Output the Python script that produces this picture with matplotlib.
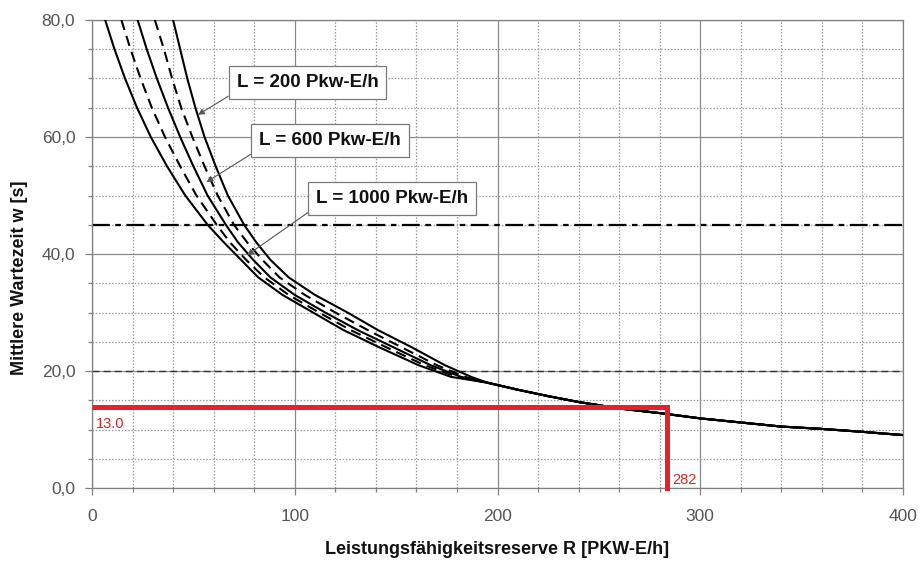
import matplotlib
matplotlib.use("Agg")
import matplotlib.pyplot as plt
from matplotlib.ticker import MultipleLocator, FuncFormatter

plt.rcParams['font.family'] = ['Liberation Sans', 'DejaVu Sans']

# ---- data ----
w_levels = [80, 75, 70, 65, 60, 55, 50, 45, 42, 39, 36, 33, 30, 27, 24, 21, 19]
R_L1000 = [6.5, 11.1, 16.3, 22.2, 29.0, 37.0, 46.0, 57.0, 65.0, 73.5, 82.0, 94.0, 109.0, 124.0, 142.0, 161.0, 177.0]
R_dash_a = [14.5, 19.0, 24.0, 29.5, 36.0, 43.5, 51.5, 61.5, 68.0, 76.0, 85.0, 97.0, 112.0, 127.5, 145.5, 164.0, 180.0]
R_L600 = [22.5, 27.0, 32.0, 37.5, 43.5, 50.0, 57.0, 66.0, 72.0, 79.5, 88.0, 100.0, 115.0, 131.0, 149.0, 167.0, 182.0]
R_dash_b = [31.0, 35.5, 39.5, 44.0, 49.5, 55.5, 62.0, 70.0, 76.5, 84.0, 92.5, 105.0, 120.0, 136.0, 153.0, 170.0, 184.0]
R_L200 = [40.0, 43.5, 47.0, 51.0, 55.5, 61.0, 67.0, 75.0, 81.0, 88.0, 97.0, 110.0, 126.0, 141.0, 158.0, 174.0, 187.0]

tail_R = [195, 210, 225, 240, 260, 280, 300, 320, 340, 360, 380, 400]
tail_w = [18.0, 16.8, 15.7, 14.7, 13.6, 12.8, 11.9, 11.2, 10.5, 10.1, 9.6, 9.05]

ref_dashdot_w = 45
ref_dashed_w = 20
red_R = 283.5
red_w = 13.9
red_R_label = "282"
red_w_label = "13.0"

labels = ["L = 200 Pkw-E/h", "L = 600 Pkw-E/h", "L = 1000 Pkw-E/h"]
label_pos = [(106.3, 69.3), (117.4, 59.4), (148, 49.5)]
label_tip = [(52.3, 63.8), (56.5, 52.3), (76.5, 39.8)]

# ---- figure ----
fig = plt.figure(figsize=(9.22, 5.61), dpi=100)
ax = fig.add_axes([92/922, 1-488/561, (903-92)/922, (488-20)/561])

ax.set_xlim(0, 400)
ax.set_ylim(0, 80)
ax.xaxis.set_major_locator(MultipleLocator(100))
ax.xaxis.set_minor_locator(MultipleLocator(20))
ax.yaxis.set_major_locator(MultipleLocator(20))
ax.yaxis.set_minor_locator(MultipleLocator(5))
ax.yaxis.set_major_formatter(FuncFormatter(lambda v, p: f"{v:.1f}".replace('.', ',')))
ax.xaxis.set_major_formatter(FuncFormatter(lambda v, p: f"{v:.0f}"))

ax.grid(which='major', color='#8a8a8a', lw=0.9, ls='-')
ax.grid(which='minor', color='#9a9a9a', lw=0.9, ls=(0, (1.2, 1.4)))
ax.set_axisbelow(True)
for s in ax.spines.values():
    s.set_color('#808080')
    s.set_linewidth(0.9)
ax.tick_params(which='major', direction='out', length=5, width=0.9, color='#808080',
               labelsize=12.5, labelcolor='#555555')
ax.tick_params(which='minor', direction='out', length=3, width=0.9, color='#808080')
ax.tick_params(axis='y', which='major', pad=7)
ax.tick_params(axis='x', which='major', pad=10)

# reference lines
ax.axhline(ref_dashdot_w, color='black', lw=1.6, ls=(0, (8, 2.5, 2.5, 2.5)), zorder=2)
ax.axhline(ref_dashed_w, color='#333333', lw=1.0, ls=(0, (5, 3)), zorder=2)

# curves
solid_sets = [R_L1000, R_L600, R_L200]
dash_sets = [R_dash_a, R_dash_b]
for Rs in solid_sets:
    ax.plot(Rs + tail_R, w_levels + tail_w, color='black', lw=1.5, zorder=3,
            solid_joinstyle='round')
for Rs in dash_sets:
    ax.plot(Rs + tail_R, w_levels + tail_w, color='black', lw=1.5, zorder=3,
            ls=(0, (5, 3)))

# red lines
ax.plot([0, red_R], [red_w, red_w], color='#e8202a', lw=3.6, zorder=4,
        solid_capstyle='butt', clip_on=False)
ax.plot([red_R, red_R], [0, red_w], color='#e8202a', lw=3.6, zorder=4,
        solid_capstyle='projecting', clip_on=False)
ax.text(2, 10.9, red_w_label, color='#d42a2a', fontsize=10.5, ha='left', va='center', zorder=5)
ax.text(red_R + 2.5, 1.3, red_R_label, color='#d42a2a', fontsize=10.5, ha='left',
        va='center', zorder=5)

# annotation boxes
for txt, pos, tip in zip(labels, label_pos, label_tip):
    ax.annotate(txt, xy=tip, xytext=pos, ha='center', va='center',
                fontsize=13.5, fontweight='bold', color='#111111', zorder=6,
                bbox=dict(boxstyle='square,pad=0.42', fc='white', ec='#7a7a7a', lw=0.9),
                arrowprops=dict(arrowstyle='-|>', color='#555555', lw=0.8,
                                mutation_scale=9, shrinkA=0, shrinkB=0,
                                relpos=(0, 0)))

fig.text(497/922, 1-549/561, "Leistungsfähigkeitsreserve R [PKW-E/h]", ha='center',
         va='center', fontsize=13, fontweight='bold', color='#111111')
fig.text(20/922, 1-278/561, "Mittlere Wartezeit w [s]", ha='center', va='center',
         rotation=90, fontsize=13, fontweight='bold', color='#111111')

fig.savefig("out.png", dpi=100)
